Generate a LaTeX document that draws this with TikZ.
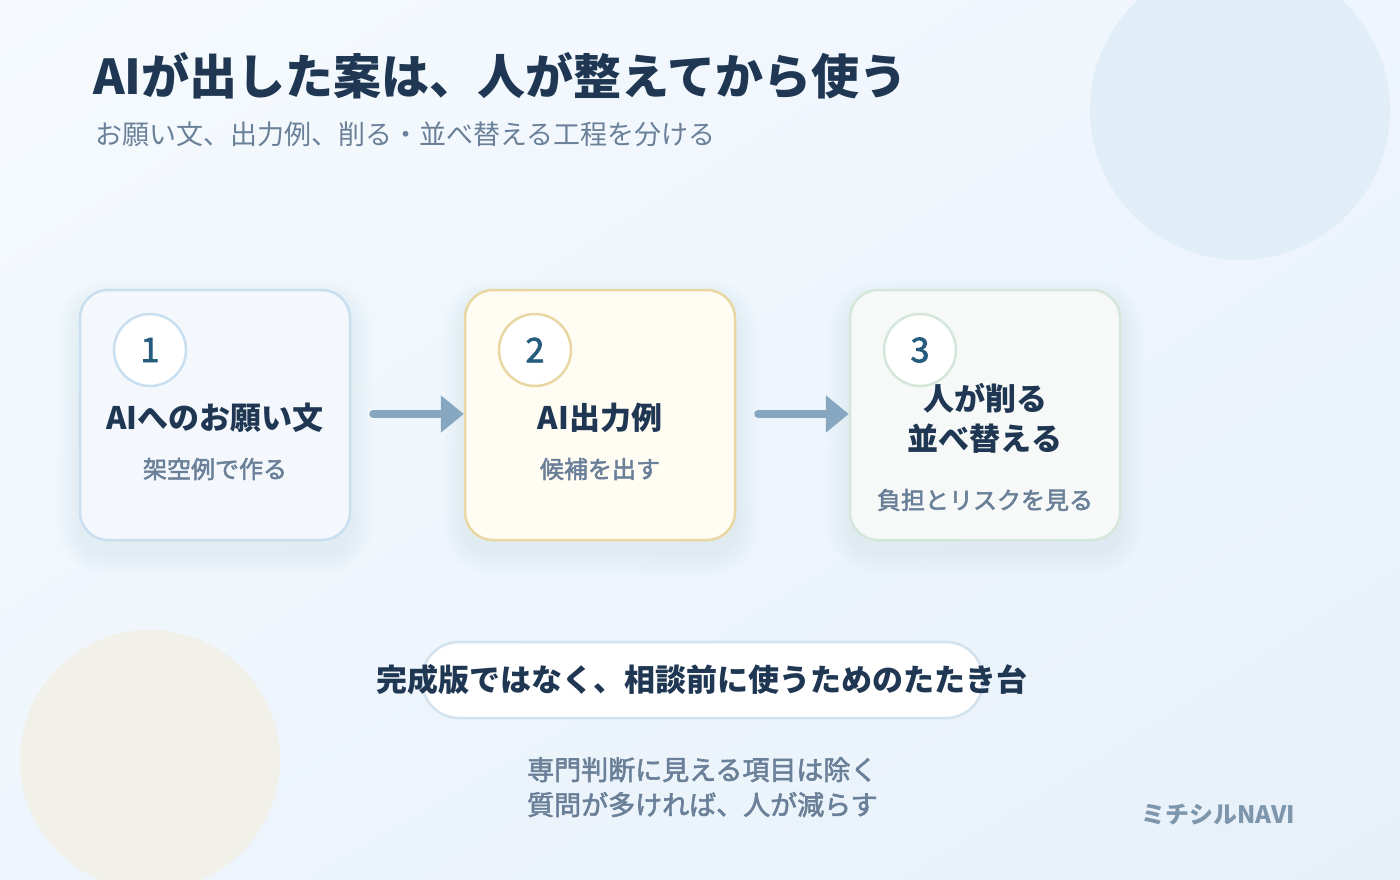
\documentclass[tikz,border=0pt]{standalone}
\usepackage{fontspec}
\newfontfamily\jp{Noto Sans CJK JP}
\newfontfamily\jpm[FakeBold=2.2]{Noto Sans CJK JP}
\usetikzlibrary{arrows.meta,positioning,shadings}
\definecolor{bgA}{HTML}{F6FAFE}
\definecolor{bgB}{HTML}{EEF5FC}
\definecolor{bgC}{HTML}{E7F0F9}
\definecolor{ink}{HTML}{1F3752}
\definecolor{subink}{HTML}{6A8098}
\definecolor{numink}{HTML}{255C7E}
\definecolor{fillA}{HTML}{F4F8FD}
\definecolor{strokeA}{HTML}{C9DFEF}
\definecolor{fillB}{HTML}{FFFCF3}
\definecolor{strokeB}{HTML}{E9D7A3}
\definecolor{fillC}{HTML}{F6F9F8}
\definecolor{strokeC}{HTML}{D4E7DA}
\definecolor{arrowc}{HTML}{87A7C0}
\definecolor{blobA}{HTML}{E1EEF7}
\definecolor{blobB}{HTML}{F1F1E9}
\definecolor{pillstroke}{HTML}{D2E3EF}
\definecolor{logoc}{HTML}{7D96AC}
\definecolor{shadowc}{HTML}{A9BED4}
\tikzset{
  stepbox/.style={draw, line width=2.5pt, rounded corners=28pt, minimum width=270pt, minimum height=250pt, inner sep=0pt},
  numcircle/.style={circle, draw, line width=2.5pt, fill=white, minimum size=72pt, inner sep=0pt, text=numink, font=\jpm\fontsize{34}{38}\selectfont},
  headtxt/.style={text=ink, font=\jp\bfseries\fontsize{31}{40}\selectfont, align=center, inner sep=0pt},
  subtxt/.style={text=subink, font=\jpm\fontsize{24}{28}\selectfont, inner sep=0pt},
  flow/.style={line width=8pt, arrowc, line cap=round, -{Triangle[length=23pt,width=36pt]}, shorten <=22pt},
}
\newcommand{\softshadow}[4]{%
  \foreach \k in {1,...,10}{
    \fill[shadowc, opacity=0.014, rounded corners=28pt+\k*2pt]
      ({#1-\k*2.2},{#2+12-\k*2.2}) rectangle ({#3+\k*2.2},{#4+12+\k*2.2});
  }}
\begin{document}
\begin{tikzpicture}[x=1pt,y=-1pt]
\useasboundingbox (0,0) rectangle (1400,880);
\shade[upper left=bgA, upper right=bgB, lower left=bgB, lower right=bgC] (0,0) rectangle (1400,880);
\fill[blobA] (1240,110) circle[radius=150];
\fill[blobB] (150,760) circle[radius=130];

% title
\node[anchor=base west, inner sep=0pt, text=ink, font=\jp\bfseries\fontsize{48}{52}\selectfont] (title) at (93,95) {AIが出した案は、人が整えてから使う};
\node[anchor=base west, inner sep=0pt, text=subink, font=\jp\fontsize{27}{30}\selectfont] (subtitle) at (95,145) {お願い文、出力例、削る・並べ替える工程を分ける};

% shadows
\softshadow{80}{290}{350}{540}
\softshadow{465}{290}{735}{540}
\softshadow{850}{290}{1120}{540}

% boxes
\node[stepbox, fill=fillA, draw=strokeA] (b1) at (215,415) {};
\node[stepbox, fill=fillB, draw=strokeB] (b2) at (600,415) {};
\node[stepbox, fill=fillC, draw=strokeC] (b3) at (985,415) {};

\node[numcircle, draw=strokeA] (n1) at (150,350) {1};
\node[numcircle, draw=strokeB] (n2) at (535,350) {2};
\node[numcircle, draw=strokeC] (n3) at (920,350) {3};

\node[headtxt] (h1) at (215,418) {AIへのお願い文};
\node[subtxt] (s1) at (215,469) {架空例で作る};
\node[headtxt] (h2) at (600,418) {AI出力例};
\node[subtxt] (s2) at (600,469) {候補を出す};
\node[headtxt] (h3) at (985,418) {人が削る\\並べ替える};
\node[subtxt] (s3) at (985,500) {負担とリスクを見る};

% arrows
\draw[flow] (b1.east |- 0,414) -- (b2.west |- 0,414);
\draw[flow] (b2.east |- 0,414) -- (b3.west |- 0,414);

% bottom pill
\node[draw=pillstroke, fill=white, line width=2.5pt, rounded corners=37pt, minimum width=561pt, minimum height=76pt, inner sep=0pt] (pill) at (702.5,680) {};
\node[text=ink, font=\jp\bfseries\fontsize{31}{34}\selectfont, inner sep=0pt] (pilltxt) at (702,680) {完成版ではなく、相談前に使うためのたたき台};

\node[anchor=north west, text=subink, font=\jpm\fontsize{27}{35}\selectfont, align=left, inner sep=0pt] (notes) at (527,757) {専門判断に見える項目は除く\\質問が多ければ、人が減らす};

\node[anchor=base east, text=logoc, font=\jp\bfseries\fontsize{24}{26}\selectfont, inner sep=0pt] (logo) at (1295,823) {ミチシルNAVI};
\end{tikzpicture}
\end{document}
